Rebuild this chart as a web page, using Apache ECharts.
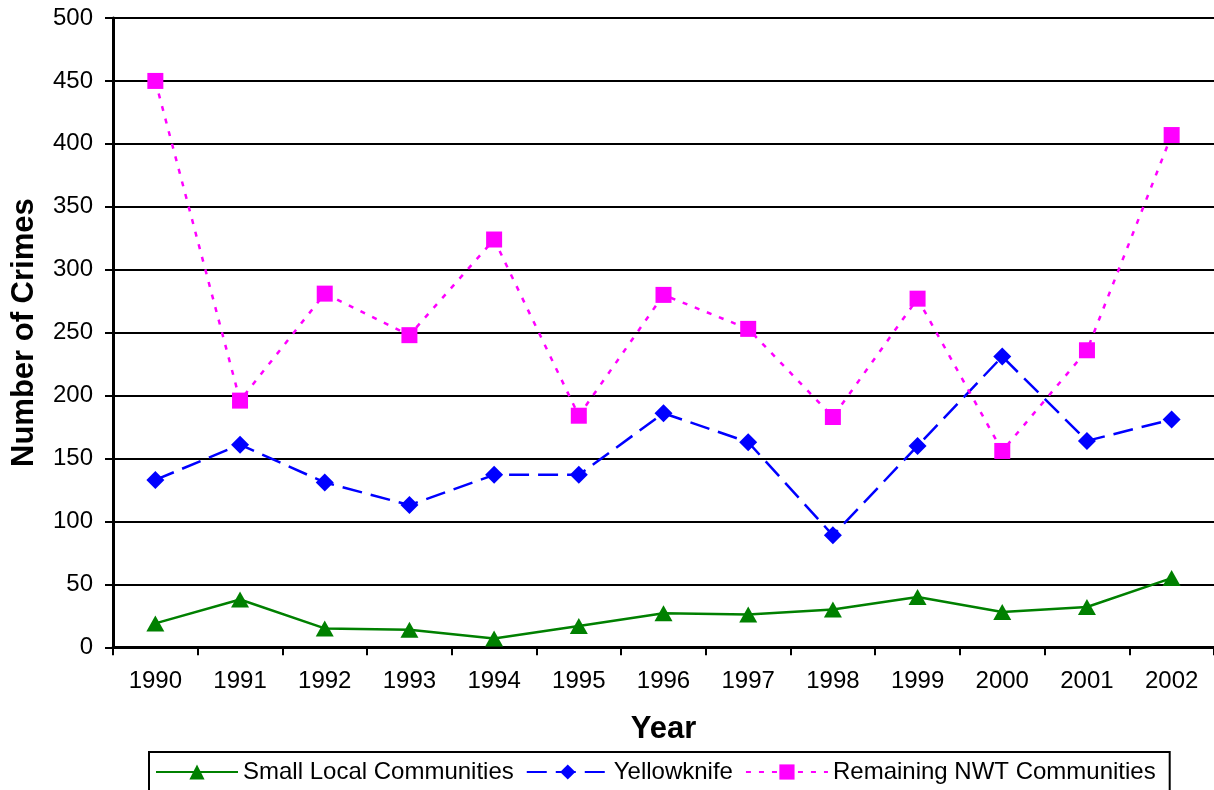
<!DOCTYPE html>
<html>
<head>
<meta charset="utf-8">
<script src="https://cdn.jsdelivr.net/npm/echarts@6/dist/echarts.min.js"></script>
<style>
html,body{margin:0;padding:0;background:#fff;}
#main{width:1214px;height:790px;}
</style>
</head>
<body>
<div id="main"></div>
<script>
const years = ['1990','1991','1992','1993','1994','1995','1996','1997','1998','1999','2000','2001','2002'];
const smallLocal = [19, 38, 15, 14, 7, 17, 27, 26, 30, 40, 28, 32, 55];
const yellowknife = [133, 161, 131, 113, 137, 137, 186, 163, 89, 160, 231, 164, 181];
const remainingNWT = [450, 196, 281, 248, 324, 184, 280, 253, 183, 277, 156, 236, 407];
const yTicks = {min: 0, max: 500, interval: 50};

const FONT = "'Liberation Sans', Arial, sans-serif";
const chart = echarts.init(document.getElementById('main'), null, {renderer: 'canvas'});
chart.setOption({
  animation: false,
  backgroundColor: '#fff',
  textStyle: {fontFamily: FONT},
  grid: {left: 113, top: 18, width: 1104, height: 629.3, containLabel: false},
  legend: {
    left: 149, top: 752,
    padding: [8, 14, 10, 6],
    borderColor: '#000', borderWidth: 2,
    itemWidth: 82, itemHeight: 19, itemGap: 12,
    textStyle: {fontSize: 24, color: '#000', fontFamily: FONT},
    data: ['Small Local Communities', 'Yellowknife', 'Remaining NWT Communities']
  },
  xAxis: {
    type: 'category',
    data: years,
    boundaryGap: true,
    name: 'Year',
    nameLocation: 'middle',
    nameGap: 67,
    nameTextStyle: {fontSize: 31, fontWeight: 'bold', color: '#000', fontFamily: FONT},
    axisLine: {lineStyle: {color: '#000', width: 3}},
    axisTick: {show: true, length: 8, lineStyle: {color: '#000', width: 2}},
    axisLabel: {fontSize: 24, color: '#000', margin: 22, fontFamily: FONT}
  },
  yAxis: {
    type: 'value',
    min: yTicks.min, max: yTicks.max, interval: yTicks.interval,
    name: 'Number of Crimes',
    nameLocation: 'middle',
    nameGap: 73,
    nameTextStyle: {fontSize: 31, fontWeight: 'bold', color: '#000', fontFamily: FONT},
    axisLine: {show: true, lineStyle: {color: '#000', width: 3}},
    axisTick: {show: true, length: 8, lineStyle: {color: '#000', width: 2}},
    axisLabel: {fontSize: 24, color: '#000', margin: 20, fontFamily: FONT},
    splitLine: {show: true, lineStyle: {color: '#000', width: 2}}
  },
  series: [
    {
      name: 'Small Local Communities', type: 'line', data: smallLocal,
      symbol: 'triangle', symbolSize: [18, 16],
      itemStyle: {color: '#008000'},
      lineStyle: {color: '#008000', width: 2.5, type: 'solid'},
      z: 3
    },
    {
      name: 'Yellowknife', type: 'line', data: yellowknife,
      symbol: 'diamond', symbolSize: 18,
      itemStyle: {color: '#0000ff'},
      lineStyle: {color: '#0000ff', width: 2.5, type: [20, 9]},
      z: 4
    },
    {
      name: 'Remaining NWT Communities', type: 'line', data: remainingNWT,
      symbol: 'rect', symbolSize: 16,
      itemStyle: {color: '#ff00ff'},
      lineStyle: {color: '#ff00ff', width: 2.5, type: [5, 8]},
      z: 5
    }
  ]
});
</script>
</body>
</html>
